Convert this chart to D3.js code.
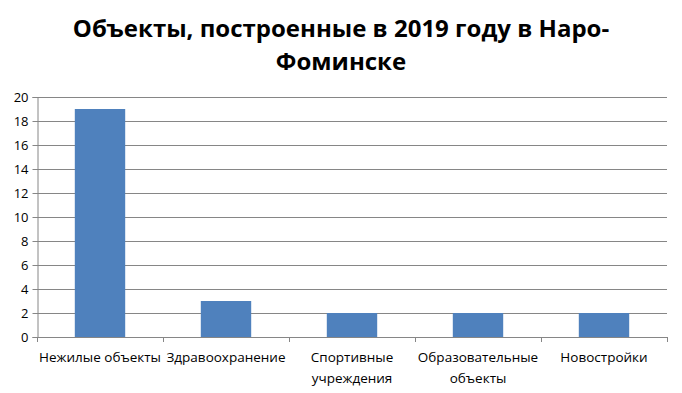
<!DOCTYPE html>
<html><head><meta charset="utf-8">
<script src="https://cdn.jsdelivr.net/npm/d3@7"></script>
<style>body{margin:0;background:#fff}</style>
</head><body>
<svg id="c" width="682" height="393"></svg>
<script>
const titleLines = ["Объекты, построенные в 2019 году в Наро-", "Фоминске"];
const categories = [["Нежилые объекты"], ["Здравоохранение"], ["Спортивные", "учреждения"], ["Образовательные", "объекты"], ["Новостройки"]];
const values = [19, 3, 2, 2, 2];
const yTicks = [0, 2, 4, 6, 8, 10, 12, 14, 16, 18, 20];

const svg = d3.select("#c");
const m = {l: 37, r: 15, t: 97, b: 56};
const W = 682, H = 393;
const x = d3.scaleBand().domain(d3.range(values.length)).range([m.l, W - m.r]).paddingInner(0.6).paddingOuter(0.3);
const xEdge = d3.scaleLinear().domain([0, values.length]).range([m.l, W - m.r]);
const y = d3.scaleLinear().domain([0, 20]).range([H - m.b, m.t]);
const font = "'Open Sans', 'Liberation Sans', sans-serif";

svg.append("g").selectAll("text").data(titleLines).join("text")
  .attr("x", W / 2).attr("y", (d, i) => 37 + i * 33)
  .attr("text-anchor", "middle").attr("font-family", font).attr("font-weight", "bold")
  .attr("font-size", 24).attr("fill", "#000").text(d => d);

// gridlines
svg.append("g").selectAll("line").data(yTicks.filter(d => d > 0)).join("line")
  .attr("x1", m.l).attr("x2", W - m.r).attr("y1", d => Math.round(y(d)) + 0.5).attr("y2", d => Math.round(y(d)) + 0.5)
  .attr("stroke", "#868686").attr("stroke-width", 1);

// bars
svg.append("g").selectAll("rect").data(values).join("rect")
  .attr("x", (d, i) => x(i)).attr("width", x.bandwidth())
  .attr("y", d => y(d)).attr("height", d => y(0) - y(d)).attr("fill", "#4F81BD");

// y axis
const ya = svg.append("g").attr("transform", `translate(${m.l + 0.5},0)`)
  .call(d3.axisLeft(y).tickValues(yTicks).tickSize(5).tickPadding(4));
ya.selectAll("path,line").attr("stroke", "#868686");
ya.selectAll("text").attr("font-family", font).attr("font-size", 13).attr("fill", "#000");

// x axis
const xg = svg.append("g");
xg.append("line").attr("x1", m.l).attr("x2", W - m.r).attr("y1", y(0) + 0.5).attr("y2", y(0) + 0.5).attr("stroke", "#868686");
xg.selectAll("line.t").data(d3.range(values.length + 1)).join("line").attr("class", "t")
  .attr("x1", d => Math.round(xEdge(d)) + 0.5).attr("x2", d => Math.round(xEdge(d)) + 0.5)
  .attr("y1", y(0)).attr("y2", y(0) + 5).attr("stroke", "#868686");
const lab = xg.selectAll("text").data(categories).join("text")
  .attr("text-anchor", "middle").attr("font-family", font).attr("font-size", 13.5).attr("fill", "#000")
  .attr("transform", (d, i) => `translate(${x(i) + x.bandwidth() / 2},${y(0) + 25})`);
lab.selectAll("tspan").data(d => d).join("tspan").attr("x", 0).attr("dy", (d, i) => i ? 21 : 0).text(d => d);
</script>
</body></html>
